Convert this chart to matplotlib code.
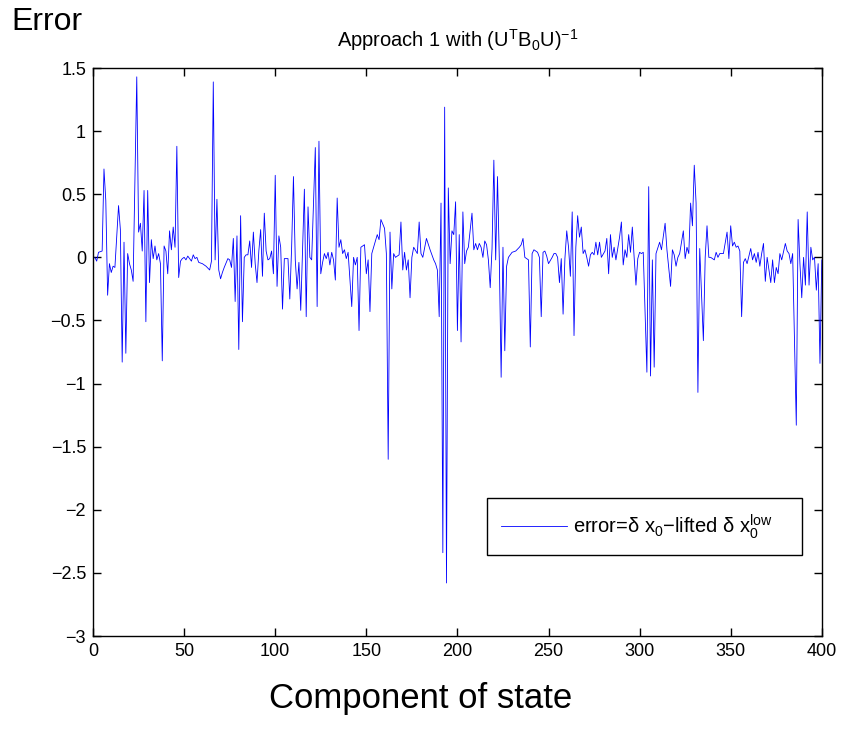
import matplotlib
matplotlib.use("Agg")
import matplotlib.pyplot as plt

plt.rcParams["font.family"] = ["Liberation Sans", "DejaVu Sans"]
plt.rcParams["mathtext.fontset"] = "custom"
plt.rcParams["mathtext.rm"] = "Liberation Sans"
plt.rcParams["mathtext.it"] = "Liberation Sans:italic"

# component index and error value
component = [
    1, 2, 3, 5, 6, 7, 8, 9, 10, 11, 12, 14, 15, 16, 17, 18, 19, 20, 21, 22,
    24, 25, 26, 27, 28, 29, 30, 31, 32, 33, 34, 35, 36, 37, 38, 39, 40, 41, 42, 43,
    44, 45, 46, 47, 48, 49, 50, 51, 52, 54, 55, 56, 57, 58, 60, 62, 64, 65, 66, 67,
    68, 69, 70, 71, 72, 74, 75, 76, 77, 78, 79, 80, 81, 82, 83, 84, 85, 86, 87, 88,
    89, 90, 91, 92, 93, 94, 95, 96, 97, 98, 99, 100, 101, 102, 103, 104, 105, 107, 108, 109,
    110, 111, 112, 113, 114, 116, 117, 118, 119, 120, 122, 123, 124, 125, 126, 127, 128, 129, 130, 131,
    132, 133, 134, 135, 136, 137, 138, 139, 140, 142, 143, 144, 145, 146, 147, 149, 150, 151, 152, 153,
    154, 156, 157, 158, 160, 161, 162, 163, 164, 165, 166, 168, 169, 170, 171, 172, 173, 174, 175, 176,
    178, 179, 180, 181, 183, 185, 187, 188, 189, 190, 191, 192, 193, 194, 195, 196, 197, 198, 199, 200,
    201, 202, 203, 204, 205, 206, 208, 209, 210, 211, 212, 213, 214, 215, 216, 217, 218, 219, 220, 221,
    222, 223, 224, 225, 226, 227, 228, 230, 232, 234, 235, 236, 237, 238, 239, 240, 241, 242, 244, 245,
    246, 247, 248, 249, 250, 252, 253, 254, 255, 256, 257, 258, 259, 260, 261, 262, 263, 264, 265, 266,
    267, 268, 269, 270, 271, 272, 273, 274, 275, 276, 277, 278, 279, 281, 282, 283, 284, 285, 286, 287,
    289, 290, 291, 292, 293, 294, 295, 296, 297, 298, 299, 300, 301, 302, 304, 305, 306, 307, 308, 309,
    311, 312, 314, 315, 317, 318, 319, 320, 321, 322, 324, 325, 326, 327, 328, 329, 330, 331, 332, 333,
    335, 336, 337, 338, 339, 341, 342, 343, 344, 346, 348, 349, 350, 351, 352, 353, 354, 355, 356, 357,
    358, 359, 361, 362, 363, 364, 365, 366, 367, 368, 369, 370, 371, 372, 373, 374, 375, 376, 377, 378,
    380, 381, 382, 383, 384, 386, 387, 388, 389, 390, 391, 392, 393, 394, 395, 396, 397, 398, 399, 400,
]
error = [
    0.0, -0.03, 0.04, 0.05, 0.70, 0.45, -0.30, -0.05, -0.12, -0.07, -0.08, 0.41, 0.22, -0.83, 0.12, -0.76, 0.03, -0.05, -0.10, -0.19,
    1.43, 0.20, 0.27, 0.05, 0.53, -0.51, 0.53, -0.20, 0.14, -0.01, 0.09, -0.02, 0.03, -0.05, -0.82, 0.09, 0.05, -0.13, 0.21, 0.06,
    0.24, 0.08, 0.88, -0.16, -0.03, -0.01, 0.0, -0.02, 0.01, -0.03, 0.02, -0.01, 0.0, -0.04, -0.05, -0.07, -0.10, -0.03, 1.39, -0.02,
    0.46, -0.10, -0.17, -0.12, -0.08, -0.01, -0.02, -0.08, 0.15, -0.35, 0.17, -0.73, 0.33, -0.51, 0.0, 0.02, 0.02, 0.13, -0.08, 0.20,
    -0.05, -0.20, 0.05, 0.22, -0.15, 0.35, 0.05, -0.02, -0.01, 0.05, -0.13, 0.65, -0.23, 0.17, 0.08, -0.41, -0.01, -0.01, -0.33, 0.08,
    0.64, -0.02, -0.25, -0.04, -0.42, 0.54, -0.47, 0.40, 0.0, -0.02, 0.87, -0.39, 0.92, -0.13, -0.04, 0.03, -0.01, 0.04, -0.06, 0.04,
    -0.02, -0.18, 0.47, 0.08, 0.14, 0.03, 0.06, -0.01, 0.04, -0.39, 0.0, -0.06, 0.0, -0.58, 0.08, 0.10, -0.13, -0.02, -0.43, 0.03,
    0.08, 0.18, 0.14, 0.30, 0.23, 0.03, -1.60, 0.20, -0.25, 0.03, 0.0, 0.02, 0.28, -0.10, 0.04, -0.10, -0.02, -0.32, 0.0, 0.08,
    0.03, 0.28, 0.03, 0.0, 0.15, 0.06, -0.02, -0.05, -0.10, -0.47, 0.43, -2.34, 1.19, -2.58, 0.55, -0.05, 0.21, 0.18, 0.44, -0.58,
    0.18, -0.67, 0.36, -0.05, 0.05, 0.08, 0.35, 0.06, 0.11, 0.06, 0.11, 0.08, 0.0, 0.13, 0.10, -0.02, -0.24, 0.07, 0.77, -0.02,
    0.64, -0.02, -0.95, 0.08, -0.74, -0.07, 0.0, 0.04, 0.05, 0.08, 0.10, 0.15, 0.0, -0.01, -0.02, -0.71, 0.03, 0.06, 0.04, 0.0,
    -0.47, 0.04, 0.05, 0.01, -0.05, 0.0, 0.03, 0.03, 0.0, -0.20, -0.01, -0.45, -0.01, 0.21, 0.08, -0.15, 0.36, -0.62, 0.08, 0.33,
    0.16, 0.24, 0.03, 0.06, 0.0, -0.07, 0.02, 0.04, 0.02, 0.12, 0.02, 0.12, 0.0, 0.05, 0.15, -0.13, 0.18, 0.0, 0.08, -0.02,
    0.16, 0.28, -0.06, 0.06, 0.0, 0.18, 0.04, 0.24, 0.0, -0.22, -0.01, 0.04, 0.03, 0.04, -0.91, 0.56, -0.94, -0.02, -0.87, 0.03,
    0.12, 0.06, 0.27, 0.06, -0.23, 0.06, 0.02, -0.07, 0.0, 0.03, 0.21, -0.01, 0.08, 0.03, 0.43, 0.25, 0.73, 0.43, -1.07, 0.07,
    -0.66, 0.0, 0.25, 0.0, 0.0, -0.02, 0.04, 0.0, 0.03, 0.03, 0.20, -0.01, 0.25, 0.09, 0.12, 0.08, 0.09, 0.05, -0.47, -0.04,
    -0.01, -0.05, 0.07, -0.02, 0.03, -0.04, 0.04, -0.07, 0.03, 0.11, -0.19, 0.0, -0.10, -0.20, -0.02, -0.20, -0.08, -0.13, 0.03, -0.02,
    0.11, 0.05, 0.03, -0.05, 0.03, -1.33, 0.30, -0.05, -0.32, 0.0, -0.22, 0.36, -0.22, 0.08, -0.02, 0.0, -0.26, -0.05, -0.84, -0.02,
]

x_ticks = [0, 50, 100, 150, 200, 250, 300, 350, 400]
y_ticks = [-3, -2.5, -2, -1.5, -1, -0.5, 0, 0.5, 1, 1.5]

fig = plt.figure(figsize=(8.42, 7.41), dpi=100)
ax = fig.add_axes([0.1105, 0.1417, 0.8655, 0.7665])

ax.plot(component, error, color="#0000ff", linewidth=0.6,
        label="error=\u03b4 x$_0$\u2212lifted \u03b4 x$_0^{\\rm low}$")

ax.set_xlim(0, 400)
ax.set_ylim(-3, 1.5)
ax.set_xticks(x_ticks)
ax.set_yticks(y_ticks)
ax.set_yticklabels([f"{v:g}".replace("-", "\u2212") for v in y_ticks])
ax.tick_params(direction="in", top=True, right=True, length=6, width=1,
               labelsize=13, pad=5)
for sp in ax.spines.values():
    sp.set_linewidth(1)

ax.set_title(r"Approach 1 with (U$^{\rm T}$B$_0$U)$^{-1}$", fontsize=14.5, pad=15)

leg = ax.legend(loc="lower left", bbox_to_anchor=(0.540, 0.1426, 0.433, 0.102),
                mode="expand", borderaxespad=0, fancybox=False, framealpha=1,
                edgecolor="black", fontsize=14.5, handlelength=3.3,
                handletextpad=0.3, borderpad=0.7)
leg.get_frame().set_linewidth(1)

fig.text(0.014, 0.970, "Error", fontsize=23, ha="left", va="center")
fig.text(0.5, 0.057, "Component of state", fontsize=25, ha="center", va="center")

fig.savefig("out.png", dpi=100)
